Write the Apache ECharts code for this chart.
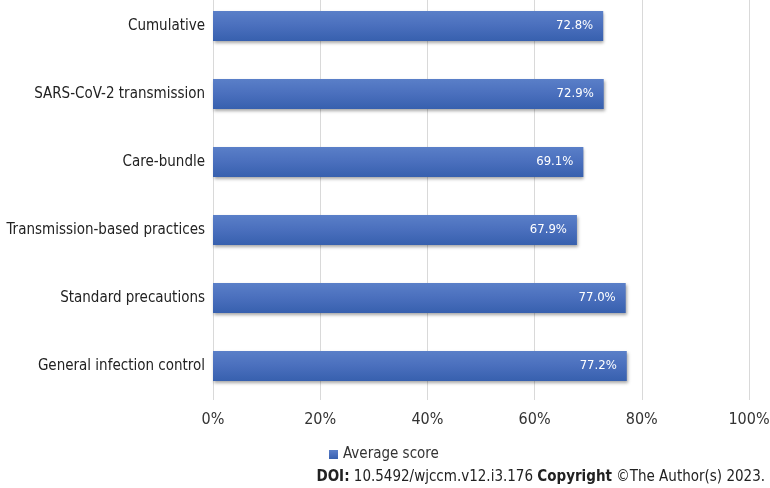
<!DOCTYPE html>
<html><head><meta charset="utf-8">
<script src="https://cdn.jsdelivr.net/npm/echarts@6/dist/echarts.min.js"></script>
<style>html,body{margin:0;padding:0;background:#fff}#c{width:770px;height:488px}</style>
</head><body><div id="c"></div>
<script>
const categories = ["General infection control","Standard precautions","Transmission-based practices","Care-bundle","SARS-CoV-2 transmission","Cumulative"];
const averageScore = [77.2,77.0,67.9,69.1,72.9,72.8];
const seriesName = "Average score";
const xTicks = [0,20,40,60,80,100];

const chart = echarts.init(document.getElementById('c'));
const font = "'DejaVu Sans Condensed', 'DejaVu Sans', sans-serif";
chart.setOption({
  animation:false,
  textStyle:{fontFamily:font},
  grid:{left:213,right:21,top:-8,bottom:88,containLabel:false,outerBoundsMode:'none'},
  legend:{
    data:[seriesName], bottom:26, left:329, itemWidth:9, itemHeight:9, icon:'rect',
    textStyle:{fontSize:15,color:'#333',fontFamily:font}, itemGap:5, padding:[0,0,0,0]
  },
  title:{
    right:5, bottom:3, padding:0,
    text:'{b|DOI:} 10.5492/wjccm.v12.i3.176 {b|Copyright} ©The Author(s) 2023.',
    textStyle:{fontSize:15,fontWeight:'normal',color:'#222',fontFamily:font,
      rich:{b:{fontWeight:'bold',fontSize:15,color:'#222',fontFamily:font}}}
  },
  xAxis:{
    type:'value', min:xTicks[0], max:xTicks[xTicks.length-1], interval:20,
    axisLabel:{formatter:v=>v+'%',fontSize:16,color:'#333',margin:12},
    splitLine:{lineStyle:{color:'#d9d9d9',width:1}},
    axisLine:{show:false}, axisTick:{show:false}
  },
  yAxis:{
    type:'category', data:categories,
    axisLabel:{fontSize:15,color:'#222',margin:8},
    axisLine:{show:false}, axisTick:{show:false}
  },
  series:[{
    name:seriesName, type:'bar', data:averageScore, barWidth:30,
    itemStyle:{
      color:new echarts.graphic.LinearGradient(0,0,0,1,[{offset:0,color:'#5a7fc8'},{offset:0.5,color:'#4a6fbd'},{offset:1,color:'#3760ae'}]),
      shadowColor:'rgba(0,0,0,0.35)', shadowBlur:3, shadowOffsetX:1, shadowOffsetY:2
    },
    label:{show:true, position:'insideRight', formatter:p=>p.value.toFixed(1)+'%', color:'#fff', fontSize:13, distance:10}
  }]
});
</script></body></html>
